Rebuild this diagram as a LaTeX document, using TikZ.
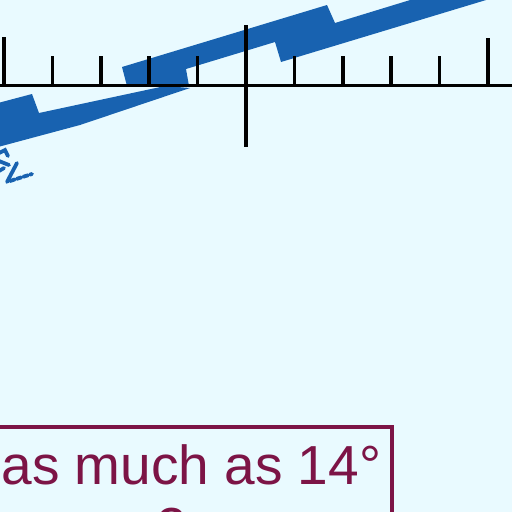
\documentclass[tikz,border=0pt]{standalone}
\usepackage{fontspec}
\setmainfont{Liberation Sans}
\definecolor{bgcyan}{RGB}{233,250,255}
\definecolor{bandblue}{RGB}{24,98,176}
\definecolor{boxmaroon}{RGB}{124,20,70}

\begin{document}
\begin{tikzpicture}[x=1pt,y=-1pt,line width=3pt,
  tickmark/.style={line width=3.6pt,black},
  eyestroke/.style={bandblue,line width=3.8pt,line cap=round},
  caption/.style={boxmaroon,inner sep=0pt,font=\fontsize{55}{63}\selectfont}]
  \useasboundingbox (0,0) rectangle (512,512);
  \fill[bgcyan] (0,0) rectangle (512,512);
  \clip (0,0) rectangle (512,512);
  % stepped band
  \fill[bandblue] (-2,103)--(32,94)--(39,113)--(165,86)--(190,88)--(80,125)--(-2,147)--cycle;
  \fill[bandblue] (122,67)--(327,5)--(335,23)--(420,-3)--(496,-3)--(281,62)--(275,42)
    --(186,69)--(189,86)--(127,86)--cycle;
  % scale
  \coordinate (left) at (-2,85.5);
  \coordinate (right) at (514,85.5);
  \draw[black] (left)--(right);
  \foreach \i in {1,2,3,4,6,7,8,9}
    \draw[tickmark] (4+48.4*\i,56)--(4+48.4*\i,86);
  \draw[tickmark] (4,37)--(4,86);
  \draw[tickmark] (488,38)--(488,86);
  \draw[tickmark,line width=4.4pt] (246,25)--(246,147);
  % eye
  \draw[eyestroke] (-1,153)--(5,150)--(8,156);
  \draw[eyestroke] (-1,161)--(9,165);
  \draw[eyestroke] (17,163)--(7,182);
  \draw[eyestroke,dash pattern=on 5pt off 2pt] (10,181)--(32,174);
  \draw[eyestroke] (-1,171)--(4,168);
  % caption box
  \draw[boxmaroon,line width=4.6pt] (-5,427)--(392,427)--(392,520);
  \node[caption,anchor=base west] (line1) at (0,484) {as much as 14°};
  \node[caption,anchor=base] (line2) at (172,546) {2};
\end{tikzpicture}
\end{document}
